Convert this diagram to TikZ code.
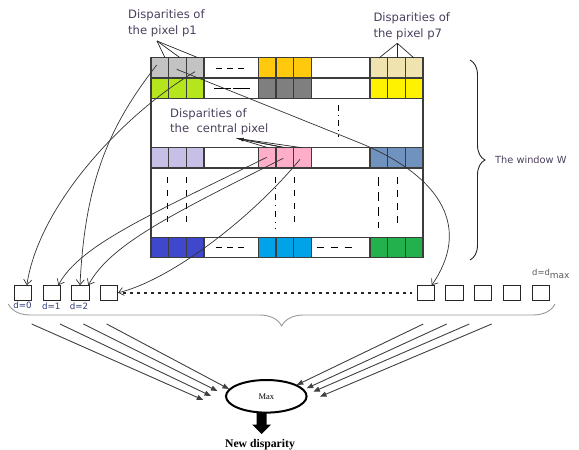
\documentclass[tikz,border=0pt]{standalone}
\usepackage{fontspec}
\setmainfont{Liberation Serif}
\newfontfamily\labelfont{DejaVu Sans}
\usetikzlibrary{shapes.geometric,arrows.meta,decorations.pathreplacing}

% cell palette
\definecolor{gridline}{HTML}{3C3C3C}
\definecolor{cgray}{HTML}{C3C3C3}
\definecolor{clime}{HTML}{B5E61D}
\definecolor{corange}{HTML}{FFC90E}
\definecolor{cdark}{HTML}{7F7F7F}
\definecolor{cbeige}{HTML}{EFE4B0}
\definecolor{cyellow}{HTML}{FFF200}
\definecolor{clav}{HTML}{C8BFE7}
\definecolor{cpink}{HTML}{FFAEC9}
\definecolor{csteel}{HTML}{7092BE}
\definecolor{cblue}{HTML}{3F48CC}
\definecolor{ccyan}{HTML}{00A2E8}
\definecolor{cgreen}{HTML}{22B14C}
\definecolor{labelc}{HTML}{4A3F5C}
\definecolor{dlabc}{HTML}{2F3A7A}

% three coloured cells of one pixel: left x, top y, colour
\newcommand\drawtriple[3]{%
  \foreach \i in {0,1,2}{%
    \filldraw[fill=#3, draw=gridline, line width=1.1pt]
      ({#1+\i*17.67},#2) rectangle ++(17.67,20.3);%
  }%
}

\tikzset{
  caption/.style={font=\labelfont\fontsize{11.6}{15.3}\selectfont, text=labelc,
    align=left, inner sep=0pt, anchor=west},
  dlab/.style={font=\labelfont\fontsize{8.7}{9}\selectfont, text=dlabc, inner sep=0pt},
  slot/.style={draw=black!85, line width=0.9pt, minimum width=17.5pt,
    minimum height=14.3pt, inner sep=0pt},
  link/.style={draw=black!80, line width=0.7pt, -{Straight Barb[length=5pt,width=8pt]}},
  feed/.style={draw=black!75, line width=0.9pt, -{Triangle[length=6.5pt,width=5pt]}},
  pointer/.style={draw=black!85, line width=0.7pt},
  sepdash/.style={draw=black, line width=0.9pt},
}

\begin{document}
\begin{tikzpicture}[x=1pt,y=-1pt]
\useasboundingbox (0,0) rectangle (579,450);

% ---- the window: coloured rows ----
\drawtriple{151}{57.7}{cgray}
\drawtriple{258.3}{57.7}{corange}
\drawtriple{370}{57.7}{cbeige}
\drawtriple{151}{78}{clime}
\drawtriple{258.3}{78}{cdark}
\drawtriple{370}{78}{cyellow}
\drawtriple{151}{147.7}{clav}
\drawtriple{258.3}{147.7}{cpink}
\drawtriple{370}{147.7}{csteel}
\drawtriple{151}{237.5}{cblue}
\drawtriple{258.3}{237.5}{ccyan}
\drawtriple{370}{237.5}{cgreen}
\foreach \yt in {57.7,78,147.7,237.5}
  \draw[gridline, line width=1.1pt] (151,\yt) rectangle (423,\yt+20.3);
\draw[gridline, line width=1.1pt] (151,57.7) rectangle (423,257.8);

% ellipsis marks inside the window
\draw[sepdash, dash pattern=on 6pt off 5pt] (216,68.3) -- (248,68.3);
\draw[sepdash, dash pattern=on 17pt off 2pt] (214,88.3) -- (251,88.3);
\draw[sepdash, dash pattern=on 6pt off 5pt] (216,247.7) -- (248,247.7);
\draw[sepdash, dash pattern=on 7pt off 7pt] (316.7,247.7) -- (355,247.7);
\draw[sepdash, dash pattern=on 6pt off 4pt on 1pt off 4pt] (338.3,105) -- (338.3,137);
\foreach \xv in {167.7,186.7,294}
  \draw[sepdash, dash pattern=on 6pt off 7pt] (\xv,177) -- (\xv,229);
\draw[sepdash, dash pattern=on 6pt off 5pt on 1pt off 5pt] (275,177) -- (275,229);
\draw[sepdash, dash pattern=on 9pt off 6pt] (378.3,177) -- (378.3,228);
\draw[sepdash, dash pattern=on 7pt off 6pt] (397.7,177) -- (397.7,228);

% ---- captions ----
\node[caption] (capA) at (128,23.3) {Disparities of\\the pixel p1};
\node[caption] (capB) at (373.3,26.2) {Disparities of\\the pixel p7};
\node[caption] (capC) at (170,121.5) {Disparities of\\the\ \ central pixel};
\node[caption, font=\labelfont\fontsize{9.8}{12}\selectfont] (capW) at (495,160) {The window W};

% pointers from captions to their cells
\coordinate (apexA) at (157,41);
\foreach \xv in {165,180,198}{
  \coordinate (topA) at (\xv,57.7);
  \draw[pointer] (apexA) -- (topA);
}
\coordinate (apexB) at (397.3,43.3);
\foreach \xv in {379,397.3,414}{
  \coordinate (topB) at (\xv,58);
  \draw[pointer] (apexB) -- (topB);
}
\coordinate (ctip) at (236.7,138.3);
\foreach \xv in {268,285,301.7}{
  \coordinate (topC) at (\xv,147.7);
  \draw[pointer] (topC) -- (ctip);
}
\draw[pointer, -{Latex[length=7pt,width=4pt]}] (285,147.7) -- (ctip);

% window brace
\draw[black!85, line width=0.9pt, decorate, decoration={brace, amplitude=15pt}]
  (470,60) -- (470,260);

% ---- disparity slots ----
\node[slot] (b0) at (22.8,292.8) {};
\node[slot] (b1) at (51.7,292.8) {};
\node[slot] (b2) at (80.3,292.8) {};
\node[slot] (b3) at (108.8,292.8) {};
\node[slot] (b4) at (426,292.8) {};
\node[slot] (b5) at (454.3,292.8) {};
\node[slot] (b6) at (483,292.8) {};
\node[slot] (b7) at (512,292.8) {};
\node[slot] (b8) at (540.8,292.8) {};

\node[dlab] (d0) at (22.5,305) {d=0};
\node[dlab] (d1) at (51.3,306.7) {d=1};
\node[dlab] (d2) at (79,306.7) {d=2};
\node[inner sep=0pt, anchor=west] (dm) at (532,274)
  {\labelfont\fontsize{8.4}{9}\selectfont\color{black!65}d=d\raisebox{-2.5pt}{\fontsize{9}{9}\selectfont max}};

\draw[black!85, line width=2.6pt, dash pattern=on 2.6pt off 4.4pt]
  ([xshift=5pt]b3.east) -- ([xshift=-5pt]b4.west);

% ---- cells to slots ----
\coordinate (g1) at (156.7,65);
\coordinate (g2) at (176.7,69.3);
\coordinate (g3) at (195,71.7);
\coordinate (p1) at (266.7,157.3);
\coordinate (p2) at (283.3,158.3);
\coordinate (p3) at (300,159.3);
\coordinate (bend) at (360,143);

\draw[link] (g3) .. controls (130,110) and (40,200) .. ([xshift=4pt]b0.north);
\draw[link] (g1) .. controls (110,125) and (85,180) .. ([xshift=-0.3pt]b2.north);
\draw[link] (g2) -- (bend) .. controls (445,178) and (470,230) .. ([xshift=5.7pt]b4.north);
\draw[link] (p1) .. controls (150,215) and (80,245) .. ([xshift=6.6pt]b1.north);
\draw[link] (p2) .. controls (170,215) and (110,245) .. ([xshift=8pt]b2.north);
\draw[link] (p3) .. controls (250,220) and (170,280) .. (b3.east);

% slot brace
\draw[black!40, line width=0.9pt, decorate, decoration={brace, mirror, amplitude=22pt}]
  (8.3,304) -- (555,304);

% ---- maximum selection ----
\node[draw, ellipse, line width=2pt, minimum width=80.6pt, minimum height=32.6pt,
  inner sep=0pt, font=\fontsize{8.5}{9}\selectfont] (mx) at (266.3,396.3) {Max};

\foreach \sx/\ex/\ey [count=\k] in {31.7/203.3/400, 60/211/396, 83.3/217.5/391, 106.7/229/389}{
  \coordinate (ls\k) at (\sx,324);
  \coordinate (le\k) at (\ex,\ey);
  \draw[feed] (ls\k) -- (le\k);
}
\foreach \sx/\ex/\ey [count=\k] in {423.3/296.7/385, 446.7/306.7/388.3, 469.3/313.3/391.7, 491.7/320/396.7}{
  \coordinate (rs\k) at (\sx,324);
  \coordinate (re\k) at (\ex,\ey);
  \draw[feed] (rs\k) -- (re\k);
}

\node[font=\bfseries\fontsize{11.7}{12}\selectfont, inner sep=0pt] (nd) at (260,444.5) {New disparity};
\fill[black] (256.7,412.5) -- (266.7,412.5) -- (266.7,424.5) -- (271.2,424.5)
  -- (261.7,434) -- (252.2,424.5) -- (256.7,424.5) -- cycle;
\end{tikzpicture}
\end{document}
